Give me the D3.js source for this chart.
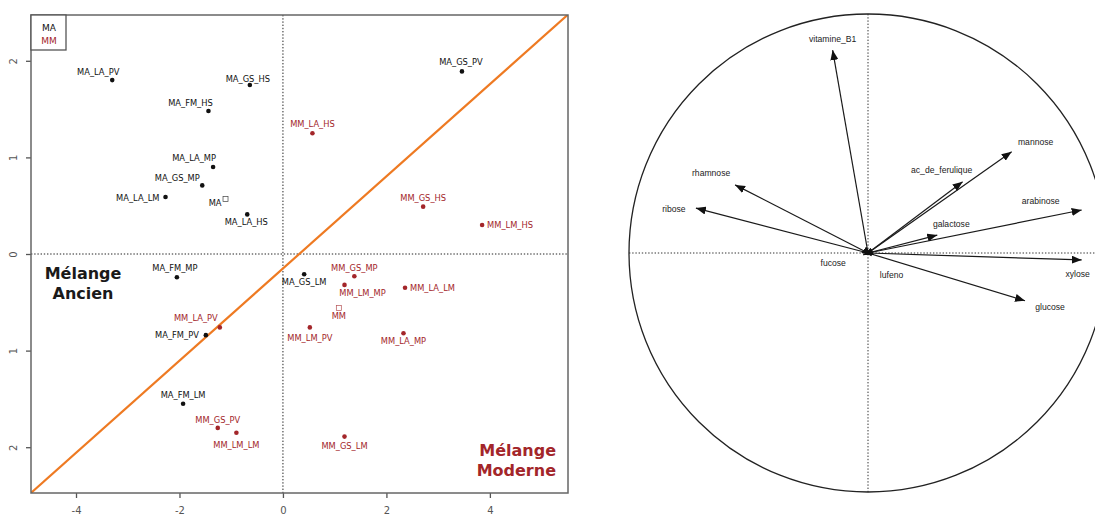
<!DOCTYPE html>
<html><head><meta charset="utf-8">
<script src="https://cdn.jsdelivr.net/npm/d3@7/dist/d3.min.js"></script>
<style>body{margin:0;background:#fff} svg{display:block}</style>
</head><body>
<svg id="chart" width="1095" height="516"></svg>
<script>
// ---------- DATA: individuals map (left) ----------
const samples = ["MA_LA_PV","MA_GS_HS","MA_FM_HS","MA_LA_MP","MA_GS_MP","MA_LA_LM","MA_LA_HS","MA_GS_PV",
                 "MA_FM_MP","MA_FM_PV","MA_FM_LM","MA_GS_LM",
                 "MM_LA_HS","MM_GS_HS","MM_LM_HS","MM_LA_PV","MM_GS_PV","MM_LM_LM","MM_GS_MP","MM_LM_MP",
                 "MM_LA_LM","MM_LM_PV","MM_LA_MP","MM_GS_LM"];
const dim1 = [-3.30,-0.64,-1.44,-1.35,-1.56,-2.27,-0.69,3.46,-2.05,-1.49,-1.93,0.41,
              0.57,2.71,3.85,-1.22,-1.26,-0.90,1.38,1.19,2.36,0.52,2.33,1.19];
const dim2 = [1.80,1.75,1.48,0.90,0.71,0.59,0.41,1.89,-0.24,-0.84,-1.55,-0.21,
              1.25,0.49,0.30,-0.76,-1.80,-1.85,-0.23,-0.32,-0.35,-0.76,-0.82,-1.89];
const groups = ["MA","MA","MA","MA","MA","MA","MA","MA","MA","MA","MA","MA",
                "MM","MM","MM","MM","MM","MM","MM","MM","MM","MM","MM","MM"];
const centroidNames = ["MA","MM"];
const centroidDim1 = [-1.11, 1.08];
const centroidDim2 = [0.57, -0.56];
const xTicks = [-4,-2,0,2,4];
const xTickLabels = ["-4","-2","0","2","4"];
const yTicks = [2,1,0,-1,-2];
const yTickLabels = ["2","1","0","1","2"];
const legendLabels = ["MA","MM"];
const zoneLabels = [["Mélange","Ancien"],["Mélange","Moderne"]];
const lineIntercept = -0.15, lineSlope = 0.477;

// ---------- DATA: variables circle (right) ----------
const variables = ["vitamine_B1","rhamnose","ribose","mannose","ac_de_ferulique","arabinose","galactose","xylose","glucose","fucose","lufeno"];
const varDim1 = [-0.148,-0.556,-0.720,0.601,0.396,0.894,0.290,0.894,0.657,-0.02,0.015];
const varDim2 = [0.849,0.285,0.188,0.424,0.298,0.180,0.075,-0.029,-0.200,-0.008,-0.012];

// ---------- LAYOUT (label nudges in px) ----------
const sampleLabelLayout = {
  MA_LA_PV:[-14,-8,"middle"], MA_GS_HS:[-2,-6,"middle"], MA_FM_HS:[-18,-8,"middle"], MA_LA_MP:[-19,-9,"middle"],
  MA_GS_MP:[-25,-7,"middle"], MA_LA_LM:[-6,1,"end"], MA_LA_HS:[-1,8,"middle"], MA_GS_PV:[-1,-9,"middle"],
  MA_FM_MP:[-2,-9,"middle"], MA_FM_PV:[-7,0,"end"], MA_FM_LM:[0,-9,"middle"], MA_GS_LM:[0,8,"middle"],
  MM_LA_HS:[0,-9,"middle"], MM_GS_HS:[0,-9,"middle"], MM_LM_HS:[5,0,"start"], MM_LA_PV:[-24,-9,"middle"],
  MM_GS_PV:[0,-8,"middle"], MM_LM_LM:[0,12,"middle"], MM_GS_MP:[0,-8,"middle"], MM_LM_MP:[18,8,"middle"],
  MM_LA_LM:[5,0,"start"], MM_LM_PV:[0,11,"middle"], MM_LA_MP:[0,8,"middle"], MM_GS_LM:[0,9,"middle"]
};
const centroidLabelLayout = {MA:[-4,4,"end"], MM:[0,8,"middle"]};
const varLabelLayout = {
  vitamine_B1:[0,-11], rhamnose:[-24,-12], ribose:[-22,1], mannose:[24,-10], ac_de_ferulique:[-21,-12],
  arabinose:[-41,-9], galactose:[14,-11], xylose:[-4,14], glucose:[25,6], fucose:[-30,8], lufeno:[20,19]
};

const colors = {MA:"#111111", MM:"#a3262a"};
const leftFont = "'DejaVu Sans', sans-serif";
const rightFont = "'Liberation Sans', Arial, sans-serif";

const svg = d3.select("#chart");
svg.append("rect").attr("width",1095).attr("height",516).attr("fill","#fff");

// ================= LEFT PANEL =================
const P = {l:31, r:568, t:15, b:493};
const x = d3.scaleLinear().domain([-4.87, 5.51]).range([P.l, P.r]);
const y = d3.scaleLinear().domain([-2.474, 2.474]).range([P.b, P.t]);

svg.append("defs").append("clipPath").attr("id","clipL")
  .append("rect").attr("x",P.l).attr("y",P.t).attr("width",P.r-P.l).attr("height",P.b-P.t);

const gL = svg.append("g");

// axes
const xAxis = gL.append("g").attr("transform",`translate(0,${P.b})`)
  .call(d3.axisBottom(x).tickValues(xTicks).tickSize(5).tickPadding(9).tickFormat((d,i)=>xTickLabels[i]));
xAxis.select(".domain").remove();
xAxis.selectAll("line").attr("stroke","#555").attr("stroke-width",1.3);
xAxis.selectAll("text").attr("fill","#555").style("font-family",leftFont).style("font-size","10px");

const yAxis = gL.append("g").attr("transform",`translate(${P.l},0)`)
  .call(d3.axisLeft(y).tickValues(yTicks).tickSize(5).tickFormat((d,i)=>yTickLabels[i]));
yAxis.select(".domain").remove();
yAxis.selectAll("line").attr("stroke","#555").attr("stroke-width",1.3);
yAxis.selectAll("text").attr("x",0).attr("dy",null)
  .attr("text-anchor","middle").attr("dominant-baseline","central")
  .attr("transform","translate(-18,0) rotate(-90)")
  .attr("fill","#555").style("font-family",leftFont).style("font-size","10px");

// dotted zero lines
const gPlot = gL.append("g").attr("clip-path","url(#clipL)");
gPlot.append("line").attr("x1",x(0)).attr("x2",x(0)).attr("y1",P.t).attr("y2",P.b)
  .attr("stroke","#222").attr("stroke-width",1).attr("stroke-dasharray","1.4,1.8");
gPlot.append("line").attr("x1",P.l).attr("x2",P.r).attr("y1",y(0)).attr("y2",y(0))
  .attr("stroke","#222").attr("stroke-width",1).attr("stroke-dasharray","1.4,1.8");

// orange separating line
const xd = x.domain();
gPlot.append("line")
  .attr("x1",x(xd[0])).attr("y1",y(lineIntercept+lineSlope*xd[0]))
  .attr("x2",x(xd[1])).attr("y2",y(lineIntercept+lineSlope*xd[1]))
  .attr("stroke","#ee7a22").attr("stroke-width",2.2);

// points
const pts = samples.map((s,i)=>({name:s, x:dim1[i], y:dim2[i], g:groups[i]}));
gL.selectAll("circle.pt").data(pts).enter().append("circle").attr("class","pt")
  .attr("cx",d=>x(d.x)).attr("cy",d=>y(d.y)).attr("r",2.3).attr("fill",d=>colors[d.g]);
gL.selectAll("text.pl").data(pts).enter().append("text").attr("class","pl")
  .attr("x",d=>x(d.x)+sampleLabelLayout[d.name][0])
  .attr("y",d=>y(d.y)+sampleLabelLayout[d.name][1])
  .attr("text-anchor",d=>sampleLabelLayout[d.name][2])
  .attr("dominant-baseline","central")
  .attr("fill",d=>colors[d.g]).style("font-family",leftFont).style("font-size","8.3px")
  .text(d=>d.name);

// centroids
const cents = centroidNames.map((n,i)=>({name:n, x:centroidDim1[i], y:centroidDim2[i]}));
gL.selectAll("rect.ct").data(cents).enter().append("rect").attr("class","ct")
  .attr("x",d=>x(d.x)-2.5).attr("y",d=>y(d.y)-2.5).attr("width",5).attr("height",5)
  .attr("fill","none").attr("stroke",d=>colors[d.name]).attr("stroke-width",0.7).attr("opacity",0.8);
gL.selectAll("text.cl").data(cents).enter().append("text").attr("class","cl")
  .attr("x",d=>x(d.x)+centroidLabelLayout[d.name][0])
  .attr("y",d=>y(d.y)+centroidLabelLayout[d.name][1])
  .attr("text-anchor",d=>centroidLabelLayout[d.name][2]).attr("dominant-baseline","central")
  .attr("fill",d=>colors[d.name]).style("font-family",leftFont).style("font-size","8.3px")
  .text(d=>d.name);

// zone labels
const zA = gL.append("text").attr("x",83).attr("text-anchor","middle")
  .attr("fill","#1a1a1a").style("font-family",leftFont).style("font-size","16px").style("font-weight","bold");
zoneLabels[0].forEach((t,i)=>zA.append("tspan").attr("x",83).attr("y",279+i*20).text(t));
const zM = gL.append("text").attr("x",556).attr("text-anchor","end")
  .attr("fill",colors.MM).style("font-family",leftFont).style("font-size","16px").style("font-weight","bold");
zoneLabels[1].forEach((t,i)=>zM.append("tspan").attr("x",556).attr("y",456+i*20).text(t));

// frame
gL.append("rect").attr("x",P.l).attr("y",P.t).attr("width",P.r-P.l).attr("height",P.b-P.t)
  .attr("fill","none").attr("stroke","#666").attr("stroke-width",1.5);

// legend
gL.append("rect").attr("x",P.l).attr("y",P.t).attr("width",35).attr("height",35)
  .attr("fill","#fff").attr("stroke","#555").attr("stroke-width",1.3);
legendLabels.forEach((t,i)=>{
  gL.append("text").attr("x",P.l+18).attr("y",P.t+13+i*13).attr("text-anchor","middle")
    .attr("dominant-baseline","central").attr("fill",colors[t])
    .style("font-family",leftFont).style("font-size","9px").text(t);
});

// ================= RIGHT PANEL =================
const cx = d3.scaleLinear().domain([-1,1]).range([629,1107]);
const cy = d3.scaleLinear().domain([-1,1]).range([492,14]);
const gR = svg.append("g");
const R = cx(1)-cx(0);

gR.append("line").attr("x1",cx(-1)).attr("x2",cx(1)).attr("y1",cy(0)).attr("y2",cy(0))
  .attr("stroke","#333").attr("stroke-width",1).attr("stroke-dasharray","1.4,1.8");
gR.append("line").attr("x1",cx(0)).attr("x2",cx(0)).attr("y1",cy(1)).attr("y2",cy(-1))
  .attr("stroke","#333").attr("stroke-width",1).attr("stroke-dasharray","1.4,1.8");
gR.append("circle").attr("cx",cx(0)).attr("cy",cy(0)).attr("r",R)
  .attr("fill","none").attr("stroke","#222").attr("stroke-width",1.3);

svg.select("defs").append("marker").attr("id","arrow")
  .attr("viewBox","0 0 10 8").attr("refX",10).attr("refY",4)
  .attr("markerWidth",10).attr("markerHeight",8).attr("markerUnits","userSpaceOnUse")
  .attr("orient","auto")
  .append("path").attr("d","M0,0 L10,4 L0,8 Z").attr("fill","#111");

const vars = variables.map((v,i)=>({name:v, x:varDim1[i], y:varDim2[i]}));
gR.selectAll("line.arr").data(vars).enter().append("line").attr("class","arr")
  .attr("x1",cx(0)).attr("y1",cy(0)).attr("x2",d=>cx(d.x)).attr("y2",d=>cy(d.y))
  .attr("stroke","#1a1a1a").attr("stroke-width",1.2).attr("marker-end","url(#arrow)");
gR.selectAll("text.vl").data(vars).enter().append("text").attr("class","vl")
  .attr("x",d=>cx(d.x)+varLabelLayout[d.name][0])
  .attr("y",d=>cy(d.y)+varLabelLayout[d.name][1])
  .attr("text-anchor","middle").attr("dominant-baseline","central")
  .attr("fill","#222").style("font-family",rightFont).style("font-size","8.6px")
  .text(d=>d.name);
</script>
</body></html>
